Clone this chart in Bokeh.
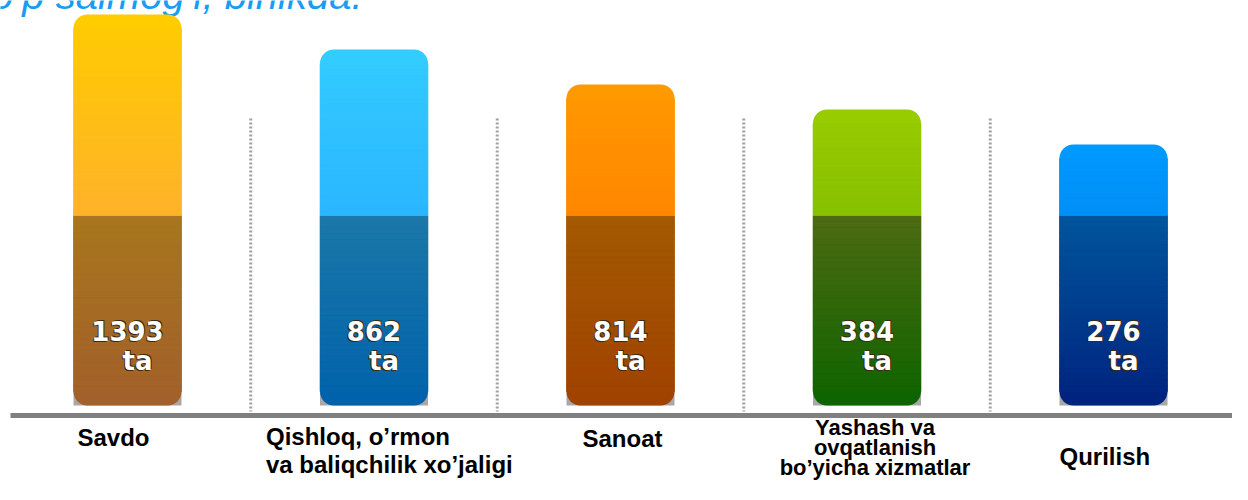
from bokeh.plotting import figure
from bokeh.models import Range1d
from bokeh.core.properties import value
from bokeh.embed import file_html
from bokeh.resources import INLINE

# ---------------- data ----------------
categories = ["Savdo",
              "Qishloq, o’rmon\nva baliqchilik  xo’jaligi",
              "Sanoat",
              "Yashash va\novqatlanish\nbo’yicha xizmatlar",
              "Qurilish"]
counts = [1393, 862, 814, 384, 276]
count_unit = "ta"
bar_heights = [391, 356, 321, 296, 261]   # drawn bar lengths (arbitrary units)
split_level = 190                          # where the light upper part starts
title_text = "eng ko’p salmog’i, birlikda."

top_hi = ["#FFCC00", "#33CCFF", "#FF9900", "#99CC00", "#0099FF"]
top_lo = ["#FFB22A", "#2BB6FF", "#FF8700", "#86C000", "#0090F6"]
bot_hi = ["#A8761E", "#1C78A9", "#A35A02", "#4E6A12", "#00569C"]
bot_lo = ["#A2602A", "#0062AA", "#A04200", "#0E6400", "#00237F"]

# ---------------- layout ----------------
W, H = 1232, 484
px_per_unit = 246.5
x0 = -127 / px_per_unit
y0, y1 = -79, 405
bar_w = 108 / px_per_unit
radius = 14
FIX = 0.4   # baseline correction (em) for the text glyph

label_dx = [-50, -108, -38, 8, -54]
label_align = ["left", "left", "left", "center", "left"]
label_base = [447, 446, 448, 436, 466]      # baseline of first line, px from top
label_gap = [28, 28, 28, 20, 28]
label_size = [24, 24, 24, 22, 24]


def hex2rgb(h):
    h = h.lstrip("#")
    return tuple(int(h[i:i + 2], 16) for i in (0, 2, 4))


def lerp(c1, c2, t):
    a, b = hex2rgb(c1), hex2rgb(c2)
    return "#%02X%02X%02X" % tuple(int(round(a[i] + (b[i] - a[i]) * t)) for i in range(3))


def ypix(b, fs):
    return y1 - b + FIX * fs


p = figure(width=W, height=H, output_backend="svg", toolbar_location=None,
           x_range=Range1d(x0, x0 + W / px_per_unit), y_range=Range1d(y0, y1),
           min_border=0, outline_line_color=None, background_fill_color="white")
p.axis.visible = False
p.grid.visible = False

xs = list(range(len(categories)))

# title (cut off at the top, like the reference)
p.text(x=[x0 + 362 / px_per_unit], y=[ypix(10, 40)], text=[title_text],
       text_font=value("Liberation Sans"), text_font_style="italic",
       text_font_size="40px", text_color="#1A9CF0", text_align="right",
       text_baseline="alphabetic")

# dotted separators
for i in range(len(xs) - 1):
    p.line(x=[i + 0.5, i + 0.5], y=[287, -6], line_color="#A0A0A0",
           line_width=3, line_dash="2 2")

# bars
N = 30
for i, h in enumerate(bar_heights):
    l, r = i - bar_w / 2, i + bar_w / 2
    # shadow behind bottom corners
    p.quad(left=[l], right=[r], bottom=[0], top=[radius], fill_color="#A8A8A8",
           line_color=None)
    # lower dark part
    p.vbar(x=[i], width=bar_w, bottom=[0], top=[split_level], fill_color=bot_lo[i],
           line_color=None, border_radius=(0, 0, radius, radius))
    lefts, rights, bots, tops, cols = [], [], [], [], []
    step = (split_level - radius) / N
    for k in range(N):
        b = radius + k * step
        t = b + step
        lefts.append(l); rights.append(r); bots.append(b); tops.append(t)
        cols.append(lerp(bot_lo[i], bot_hi[i], (b + step / 2) / split_level))
    p.quad(left=lefts, right=rights, bottom=bots, top=tops, fill_color=cols,
           line_color=cols, line_width=0.6)
    # upper light part
    p.vbar(x=[i], width=bar_w, bottom=[split_level], top=[h], fill_color=top_hi[i],
           line_color=None, border_radius=(radius, radius, 0, 0))
    lefts, rights, bots, tops, cols = [], [], [], [], []
    step = (h - radius - split_level) / N
    for k in range(N):
        b = split_level + k * step
        t = b + step
        lefts.append(l); rights.append(r); bots.append(b); tops.append(t)
        cols.append(lerp(top_lo[i], top_hi[i], (b + step / 2 - split_level) / (h - split_level)))
    p.quad(left=lefts, right=rights, bottom=bots, top=tops, fill_color=cols,
           line_color=cols, line_width=0.6)

# baseline
p.line(x=[x0 + 10 / px_per_unit, x0 + W / px_per_unit], y=[-10, -10],
       line_color="#808080", line_width=5)

# value labels
num_txt = [str(c) for c in counts]
for dx, dy, col in [(1, -1, "#3A2A10"), (-1, 1, "#3A2A10"), (0, 0, "white")]:
    p.text(x=xs, y=[ypix(341, 26)] * len(xs), text=num_txt, x_offset=dx, y_offset=dy,
           text_font=value("DejaVu Sans"), text_font_style="bold",
           text_font_size="26px", text_color=col, text_align="center",
           text_baseline="alphabetic")
    p.text(x=xs, y=[ypix(371, 26)] * len(xs), text=[count_unit] * len(xs),
           x_offset=10 + dx, y_offset=dy, text_font=value("DejaVu Sans"),
           text_font_style="bold", text_font_size="26px", text_color=col,
           text_align="center", text_baseline="alphabetic")

# category labels
for i, cat in enumerate(categories):
    fs = label_size[i]
    for k, line in enumerate(cat.split("\n")):
        p.text(x=[i], y=[ypix(label_base[i] + k * label_gap[i], fs)], text=[line],
               x_offset=label_dx[i], text_font=value("Liberation Sans"),
               text_font_style="bold", text_font_size=f"{fs}px",
               text_color="black", text_align=label_align[i],
               text_baseline="alphabetic")

open("out.html", "w").write(file_html(p, INLINE))
